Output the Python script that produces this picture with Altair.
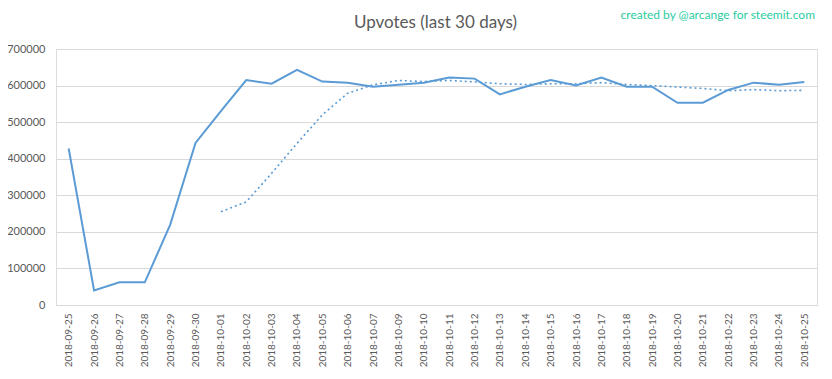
import altair as alt
import pandas as pd

dates = ["2018-09-25", "2018-09-26", "2018-09-27", "2018-09-28", "2018-09-29", "2018-09-30",
         "2018-10-01", "2018-10-02", "2018-10-03", "2018-10-04", "2018-10-05", "2018-10-06",
         "2018-10-07", "2018-10-09", "2018-10-10", "2018-10-11", "2018-10-12", "2018-10-13",
         "2018-10-14", "2018-10-15", "2018-10-16", "2018-10-17", "2018-10-18", "2018-10-19",
         "2018-10-20", "2018-10-21", "2018-10-22", "2018-10-23", "2018-10-24", "2018-10-25"]
upvotes = [428000, 40000, 62000, 62000, 219000, 443000,
           530000, 615000, 605000, 643000, 611000, 608000,
           597000, 602000, 608000, 622000, 619000, 576000,
           597000, 615000, 600000, 622000, 597000, 597000,
           553000, 553000, 588000, 608000, 602000, 610000]
moving_avg = [None, None, None, None, None, None,
              255000, 282000, 360000, 442000, 520000, 579000,
              602000, 614000, 611000, 614000, 610000, 605000,
              603000, 605000, 605000, 608000, 603000, 600000,
              596000, 592000, 586000, 589000, 586000, 587000]
y_ticks = [0, 100000, 200000, 300000, 400000, 500000, 600000, 700000]
title_text = "Upvotes (last 30 days)"
credit_text = "created by @arcange for steemit.com"

FONT = "Lato"
GRAY = "#595959"
BLUE = "#5B9BD5"

df = pd.DataFrame({"date": dates, "upvotes": upvotes})
df_avg = pd.DataFrame({"date": dates, "avg": moving_avg}).dropna()

W, H = 761, 256

x_axis = alt.Axis(title=None, labelAngle=270, labelFont=FONT, labelFontSize=10,
                  labelColor=GRAY, ticks=False, domainColor="#d9d9d9",
                  labelPadding=8, grid=False, labelOverlap=False)
y_axis = alt.Axis(title=None, values=y_ticks, format="d", labelFont=FONT,
                  labelFontSize=11, labelColor=GRAY, ticks=False, domain=False,
                  gridColor="#d9d9d9", labelPadding=11, labelOverlap=False,
                  labelFlush=False)
x_scale = alt.Scale(domain=dates, padding=0.5)
y_scale = alt.Scale(domain=[0, 700000], nice=False)

solid = alt.Chart(df).mark_line(color=BLUE, strokeWidth=2).encode(
    x=alt.X("date:O", sort=dates, scale=x_scale, axis=x_axis),
    y=alt.Y("upvotes:Q", scale=y_scale, axis=y_axis),
)

dotted = alt.Chart(df_avg).mark_line(color=BLUE, strokeWidth=1.6, strokeDash=[2, 3]).encode(
    x=alt.X("date:O", sort=dates, scale=x_scale, axis=x_axis),
    y=alt.Y("avg:Q", scale=y_scale, axis=y_axis),
)

title = alt.Chart(pd.DataFrame({"t": [title_text]})).mark_text(
    font=FONT, fontSize=17, color=GRAY, align="center", baseline="middle"
).encode(text="t:N", x=alt.value(W / 2 - 1), y=alt.value(-26))

credit = alt.Chart(pd.DataFrame({"t": [credit_text]})).mark_text(
    font=FONT, fontSize=12, color="#2bcc9f", align="right", baseline="middle"
).encode(text="t:N", x=alt.value(759), y=alt.value(-34))

chart = alt.layer(solid, dotted, title, credit).properties(
    width=W, height=H,
    autosize=alt.AutoSizeParams(type="none"),
    padding={"left": 48, "top": 41, "right": 7, "bottom": 66},
).configure_view(stroke=None).configure(background="white")

chart.save("out.html", embed_options={"renderer": "svg", "actions": False})
